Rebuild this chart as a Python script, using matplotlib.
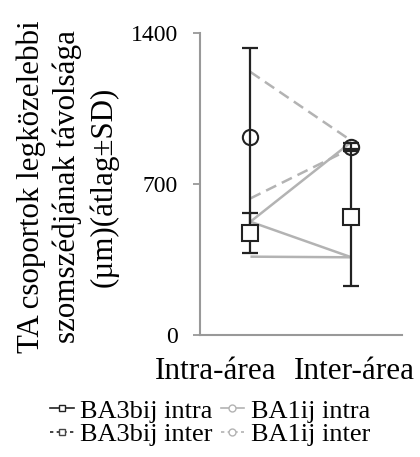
import matplotlib
matplotlib.use("Agg")
import matplotlib.pyplot as plt
import matplotlib.transforms as mtransforms
from matplotlib.lines import Line2D

plt.rcParams['font.family'] = ['Liberation Serif', 'DejaVu Serif']

categories = ["Intra-área", "Inter-área"]
x = [1, 2]

# black marker series with SD
ba3_mean = [472, 545]
ba3_sd = [92, 318]
ba1_mean = [918, 872]
ba1_sd = [414, 20]

# gray connecting lines (intra value, inter value)
gray_solid = [[525, 895], [525, 360], [363, 360]]
gray_dashed = [[1219, 900], [633, 865]]

yticks = [0, 700, 1400]

fig = plt.figure(figsize=(4.2, 4.57), dpi=100)
ax = fig.add_axes([0.476, 0.267, 0.481, 0.661])

gray = '#b3b3b3'
for seg in gray_solid:
    ax.plot(x, seg, color=gray, lw=1.8, solid_capstyle='butt', zorder=1)
for seg in gray_dashed:
    ax.plot(x, seg, color=gray, lw=1.8, ls=(0, (4.5, 2.5)), zorder=1)

ax.errorbar(x, ba1_mean, yerr=ba1_sd, fmt='none', ecolor='#222222', elinewidth=1.6,
            capsize=5.5, capthick=1.6, zorder=2)
ax.errorbar(x, ba3_mean, yerr=ba3_sd, fmt='none', ecolor='#222222', elinewidth=1.6,
            capsize=5.5, capthick=1.6, zorder=2)
ax.plot(x, ba1_mean, ls='none', marker='o', ms=11, mfc='none', mec='#222222', mew=1.5, zorder=3)
ax.plot(x, ba3_mean, ls='none', marker='s', ms=11, mfc='white', mec='#222222', mew=1.5, zorder=3)

ax.set_xlim(0.5, 2.5)
ax.set_ylim(0, 1400)
ax.set_yticks(yticks)
ax.set_yticklabels([str(v) for v in yticks], fontsize=17)
ax.set_xticks(x)
ax.set_xticklabels(categories, fontsize=22.5)
ax.tick_params(axis='x', length=0, pad=16)
ax.tick_params(axis='y', length=5, width=1.3, color='#999999', pad=11)
for s in ['top', 'right']:
    ax.spines[s].set_visible(False)
for s in ['left', 'bottom']:
    ax.spines[s].set_color('#999999')
    ax.spines[s].set_linewidth(1.5)

# shift the first category label left as in the reference
xlabels = ax.get_xticklabels()
xlabels[0].set_transform(xlabels[0].get_transform() +
                         mtransforms.ScaledTranslation(-35 / 100, 0, fig.dpi_scale_trans))
xlabels[1].set_transform(xlabels[1].get_transform() +
                         mtransforms.ScaledTranslation(3 / 100, 0, fig.dpi_scale_trans))

fig.text(0.16, 0.591, "TA csoportok legközelebbi\nszomszédjának távolsága\n(µm)(átlag±SD)",
         rotation=90, ha='center', va='center', fontsize=22.3, linespacing=1.3)

handles = [
    Line2D([], [], color='#222222', lw=1.2, marker='s', ms=5, mfc='white', mec='#222222'),
    Line2D([], [], color='#222222', lw=1.2, ls=(0, (2, 2)), marker='s', ms=5, mfc='white', mec='#444444'),
    Line2D([], [], color=gray, lw=1.2, marker='o', ms=5, mfc='white', mec=gray),
    Line2D([], [], color=gray, lw=1.2, ls=(0, (2, 2)), marker='o', ms=5, mfc='white', mec=gray),
]
labels = ["BA3bij intra", "BA3bij inter", "BA1ij intra", "BA1ij inter"]
fig.legend(handles, labels, loc='center', bbox_to_anchor=(0.50, 0.075), ncol=2,
           frameon=False, fontsize=19, handlelength=0.9, handletextpad=0.25,
           columnspacing=0.3, labelspacing=0.0, borderpad=0)

fig.savefig("out.png", dpi=100)
